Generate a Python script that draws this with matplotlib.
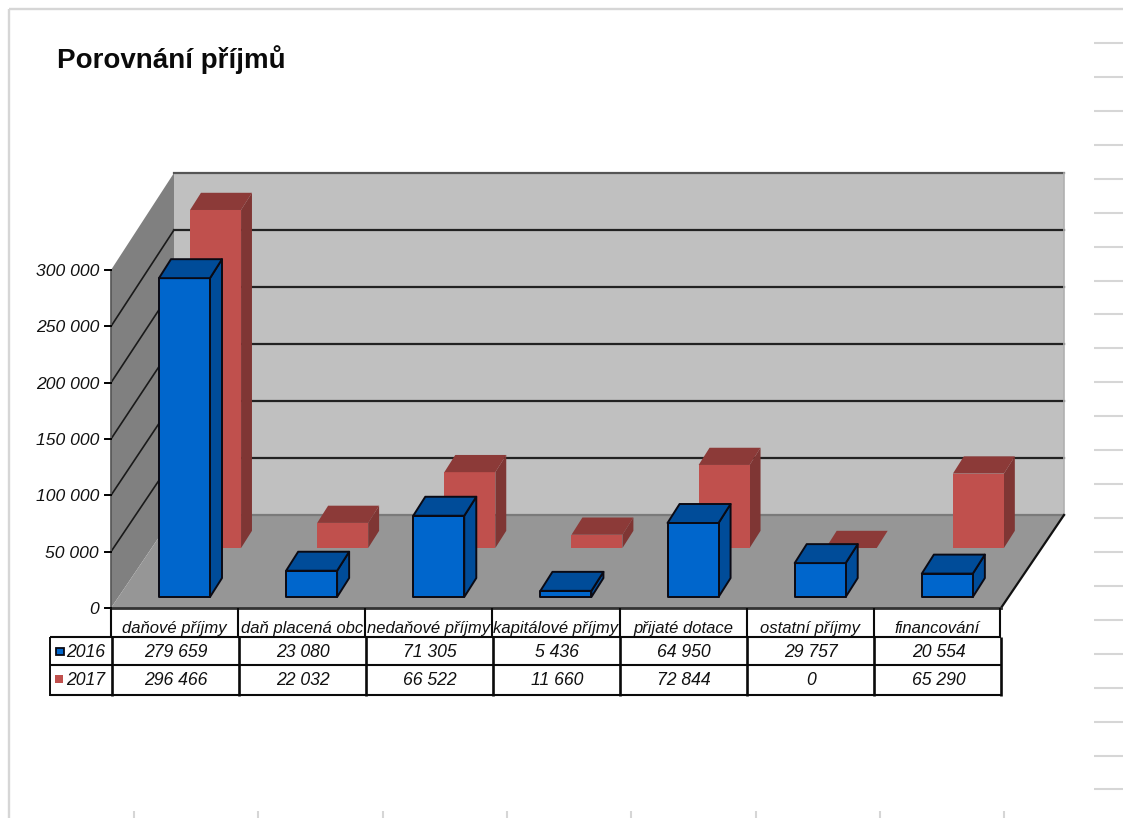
import matplotlib
matplotlib.use("Agg")
import matplotlib.pyplot as plt
from matplotlib.patches import Polygon, Rectangle

plt.rcParams['font.family'] = ['Liberation Sans', 'DejaVu Sans']

title = "Porovnání příjmů"
categories = ["daňové příjmy", "daň placená obc", "nedaňové příjmy", "kapitálové příjmy",
              "přijaté dotace", "ostatní příjmy", "financování"]
series_names = ["2016", "2017"]
values_2016 = [279659, 23080, 71305, 5436, 64950, 29757, 20554]
values_2017 = [296466, 22032, 66522, 11660, 72844, 0, 65290]
labels_2016 = ["279 659", "23 080", "71 305", "5 436", "64 950", "29 757", "20 554"]
labels_2017 = ["296 466", "22 032", "66 522", "11 660", "72 844", "0", "65 290"]
y_ticks = [0, 50000, 100000, 150000, 200000, 250000, 300000]
y_tick_labels = ["0", "50 000", "100 000", "150 000", "200 000", "250 000", "300 000"]

W, H = 1123, 818
fig = plt.figure(figsize=(W / 100, H / 100), dpi=100, facecolor="white")

# page overlay in pixel coordinates
page = fig.add_axes([0, 0, 1, 1], zorder=0)
page.set_xlim(0, W); page.set_ylim(H, 0); page.axis("off")
GR = "#D6D6D6"
page.plot([8.5, 8.5], [8.5, H], color=GR, lw=1.7, solid_capstyle="butt")
page.plot([8.5, W], [8.5, 8.5], color=GR, lw=1.7, solid_capstyle="butt")
for k in range(23):
    page.plot([1094, W], [43 + 33.93 * k] * 2, color=GR, lw=1.5, solid_capstyle="butt")
for k in range(8):
    xx = 134 + 124.3 * k
    page.plot([xx, xx], [811, H], color=GR, lw=1.5, solid_capstyle="butt")
page.text(57, 68, title, fontsize=20, fontweight="bold", ha="left", va="baseline", color="#0A0A0A")

# chart axes: x in category units, y in value units (front plane)
L, R, B, T = 111, 1001, 608, 270
ax = fig.add_axes([L / W, 1 - B / H, (R - L) / W, (B - T) / H], zorder=1)
n = len(categories)
ax.set_xlim(0, n); ax.set_ylim(0, 300000); ax.axis("off")
px_x = n / (R - L)
px_y = 300000 / (B - T)
WALL_DX, WALL_DY = 63 * px_x, 93 * px_y
BAR_DX = 59 * px_x
PERSP = 1.012


def wall(x, v, d):
    return (x + d * WALL_DX, v * (1 + (PERSP - 1) * d) + d * WALL_DY)


def bar_pt(x, v, d):
    return (x + d * BAR_DX, v * PERSP + d * WALL_DY)


def poly(pts, **kw):
    ax.add_patch(Polygon(pts, closed=True, clip_on=False, **kw))


ymax = y_ticks[-1]
poly([wall(0, 0, 1), wall(n, 0, 1), wall(n, ymax, 1), wall(0, ymax, 1)], fc="#C0C0C0", ec="none", zorder=1)
poly([wall(0, 0, 0), wall(0, ymax, 0), wall(0, ymax, 1), wall(0, 0, 1)], fc="#808080", ec="none", zorder=2)
poly([wall(0, 0, 0), wall(n, 0, 0), wall(n, 0, 1), wall(0, 0, 1)], fc="#969696", ec="none", zorder=2)

for v in y_ticks[1:]:
    top = v == ymax
    a, b, c = wall(0, v, 0), wall(0, v, 1), wall(n, v, 1)
    if not top:
        ax.plot([a[0], b[0]], [a[1], b[1]], color="#1A1A1A", lw=1.2, clip_on=False, zorder=3)
    ax.plot([b[0], c[0]], [b[1], c[1]], color="#555555" if top else "#222222", lw=1.6, clip_on=False, zorder=3)
ax.plot(*zip(wall(0, 0, 1), wall(n, 0, 1)), color="#7A7A7A", lw=1.6, clip_on=False, zorder=3)
ax.plot(*zip(wall(n, 0, 1), wall(n, ymax, 1)), color="#B0B0B0", lw=1.2, clip_on=False, zorder=3)
ax.plot(*zip(wall(n, 0, 0), wall(n, 0, 1)), color="#111111", lw=1.6, clip_on=False, zorder=3)
ax.plot(*zip(wall(0, 0, 0), wall(n, 0, 0)), color="#333333", lw=2.0, clip_on=False, zorder=3)
ax.plot(*zip(wall(0, 0, 0), wall(0, ymax, 0)), color="#555555", lw=1.2, clip_on=False, zorder=3)
for v, lab in zip(y_ticks, y_tick_labels):
    ax.plot([-6 * px_x, 0], [v, v], color="black", lw=1.4, clip_on=False, zorder=3)
    ax.text(-12 * px_x, v - 6 * px_y, lab, ha="right", va="baseline", style="italic", fontsize=12.6,
            color="#111111", clip_on=False)

BAR_W = 51 * px_x
GAP = 41 * px_x


def bar(i, val, d0, thick, front, top, side, edge, lw, z):
    x0 = i + GAP
    x1 = x0 + BAR_W
    d1 = d0 + thick
    style = dict(ec=edge, lw=lw, joinstyle="round", zorder=z)
    if val > 0:
        poly([bar_pt(x1, 0, d0), bar_pt(x1, 0, d1), bar_pt(x1, val, d1), bar_pt(x1, val, d0)], fc=side, **style)
        poly([bar_pt(x0, 0, d0), bar_pt(x1, 0, d0), bar_pt(x1, val, d0), bar_pt(x0, val, d0)], fc=front, **style)
    poly([bar_pt(x0, val, d0), bar_pt(x1, val, d0), bar_pt(x1, val, d1), bar_pt(x0, val, d1)], fc=top, **style)


for i, val in enumerate(values_2017):
    bar(i, val, 0.645, 0.185, "#C0504D", "#8C3A38", "#7F3634", "none", 0, 4 + i * 0.01)
for i, val in enumerate(values_2016):
    bar(i, val, 0.118, 0.204, "#0066CC", "#004C99", "#004C99", "#0A0A14", 1.4, 5 + i * 0.01)

# data table, drawn in pixel coordinates from the column grid
col_w = 1 / px_x
top_y, r1, r2, r3 = 608, 637, 665, 695
left_key = 50
page2 = fig.add_axes([0, 0, 1, 1], zorder=2)
page2.set_xlim(0, W); page2.set_ylim(H, 0); page2.axis("off"); page2.patch.set_alpha(0)


def ln(xs, ys, lw=1.6, c="#0A0A0A"):
    page2.plot(xs, ys, color=c, lw=lw, solid_capstyle="butt")


for j in range(n + 1):
    xv = L + j * col_w - (1 if j == n else 0)
    ln([xv, xv], [top_y, r1], lw=1.5)
    ln([xv + 0.6, xv + 0.6], [r1, r3 + 0.8], lw=1.9)
ln([left_key, left_key], [r1, r3 + 0.8], lw=1.4)
for yy in (r1, r2, r3):
    ln([left_key, R], [yy, yy], lw=1.5)

for j, (cat, a, b) in enumerate(zip(categories, labels_2016, labels_2017)):
    cx = L + (j + 0.5) * col_w
    kw = dict(ha="center", va="baseline", style="italic", color="#111111")
    page2.text(cx, 633, cat, fontsize=12, **kw)
    page2.text(cx + 1, 657, a, fontsize=12.7, **kw)
    page2.text(cx + 1, 685, b, fontsize=12.7, **kw)

page2.add_patch(Rectangle((56, 648), 8, 7, fc="#0066CC", ec="#0A0A14", lw=1.3))
page2.add_patch(Rectangle((55, 675), 8, 8, fc="#C0504D", ec="none"))
page2.text(105, 657, series_names[0], ha="right", va="baseline", style="italic", fontsize=12.7, color="#111111")
page2.text(105, 685, series_names[1], ha="right", va="baseline", style="italic", fontsize=12.7, color="#111111")

fig.savefig("out.png", dpi=100)
